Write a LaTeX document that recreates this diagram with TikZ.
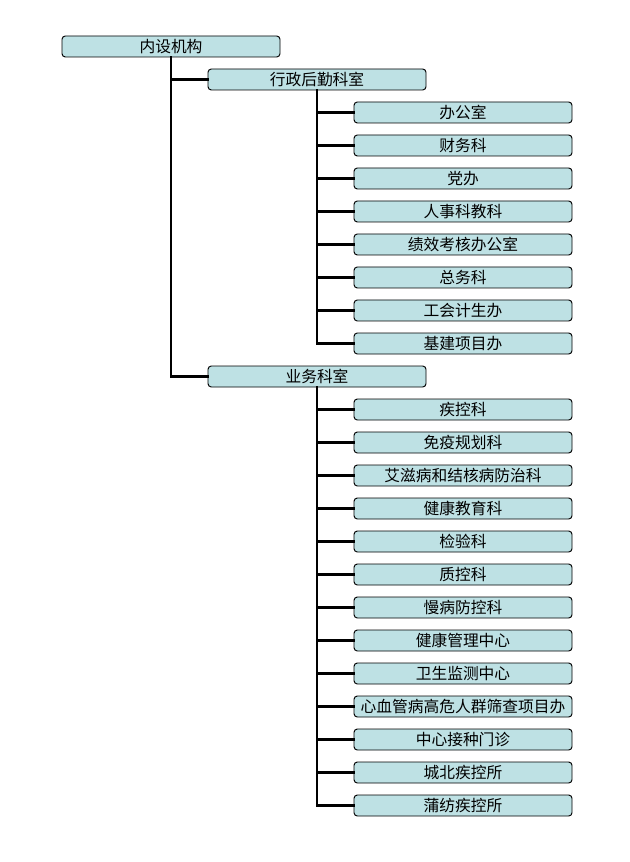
\documentclass[tikz,border=0pt]{standalone}
\usepackage{fontspec}
\newfontfamily\cjk{Noto Sans CJK SC}
\definecolor{boxfill}{HTML}{BEE1E4}
\begin{document}
\begin{tikzpicture}[x=0.75pt,y=-0.75pt,
  orgbox/.style={draw=black, line width=0.7pt, fill=boxfill, rounded corners=2.5pt,
    minimum width=163.5pt, minimum height=15.75pt, inner sep=0pt,
    font=\cjk\fontsize{11.8}{12}\selectfont},
  link/.style={line width=2.2pt, line cap=rect}]
\useasboundingbox (0,0) rectangle (629,862);
\node[orgbox] (root) at (171,46.5) {内设机构};
\node[orgbox] (a) at (317,79.5) {行政后勤科室};
\node[orgbox] (b) at (317,376.5) {业务科室};
\foreach \t [count=\i] in {办公室,财务科,党办,人事科教科,绩效考核办公室,总务科,工会计生办,基建项目办}
  \node[orgbox] (a\i) at (463,79.5+33*\i) {\t};
\foreach \t [count=\i] in {疾控科,免疫规划科,艾滋病和结核病防治科,健康教育科,检验科,质控科,慢病防控科,健康管理中心,卫生监测中心,心血管病高危人群筛查项目办,中心接种门诊,城北疾控所,蒲纺疾控所}
  \node[orgbox] (b\i) at (463,376.5+33*\i) {\t};
\draw[link] (root.south) |- (b.west);
\draw[link] (root.south |- a.west) -- (a.west);
\draw[link] (a.south) |- (a8.west);
\foreach \i in {1,...,7} \draw[link] (a.south |- a\i.west) -- (a\i.west);
\draw[link] (b.south) |- (b13.west);
\foreach \i in {1,...,12} \draw[link] (b.south |- b\i.west) -- (b\i.west);
\end{tikzpicture}
\end{document}
